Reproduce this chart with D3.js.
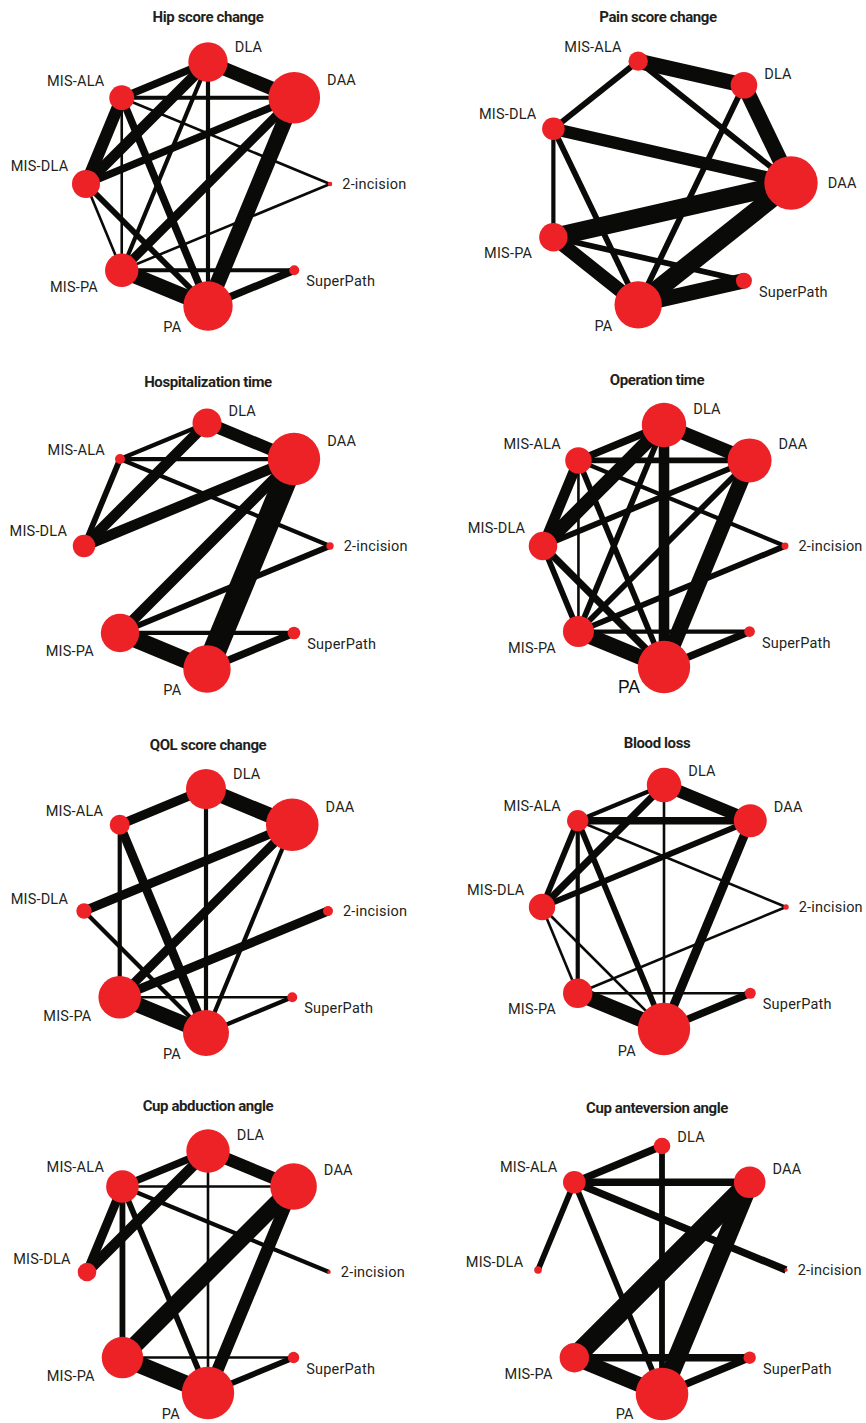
<!DOCTYPE html>
<html>
<head>
<meta charset="utf-8">
<script src="https://cdn.jsdelivr.net/npm/d3@7"></script>
<style>
    body { margin: 0; background: #fff; }
    .title { font-family: Roboto, "Noto Sans", sans-serif; font-weight: 700; font-size: 15px; letter-spacing: -0.4px; fill: #231f20; }
    .label { font-family: Roboto, "Noto Sans", sans-serif; font-size: 14.5px; letter-spacing: 0.2px; fill: #231f20; }
    .label.big { font-family: "Liberation Sans", Arial, sans-serif; font-size: 17.5px; letter-spacing: 0; fill: #111; }
</style>
</head>
<body>
<div id="graph"></div>
<script>
/*
    Data
*/
// treatments, in the clockwise order they sit on each network
var treatments = ["DAA", "2-incision", "SuperPath", "PA", "MIS-PA", "MIS-DLA", "MIS-ALA", "DLA"]

var titles = ["Hip score change", "Pain score change", "Hospitalization time", "Operation time",
              "QOL score change", "Blood loss", "Cup abduction angle", "Cup anteversion angle"]

// patients per treatment (same order as treatments, null = not in that network)
var hipNodes   = [985, 8, 37, 902, 412, 290, 231, 574]
var painNodes  = [1054, null, 95, 831, 298, 189, 139, 262]
var hospNodes  = [1015, 20, 59, 831, 545, 186, 37, 311]
var opNodes    = [716, 18, 42, 1015, 355, 302, 258, 729]
var qolNodes   = [1023, 37, 37, 782, 671, 88, 148, 592]
var bloodNodes = [403, 11, 45, 1015, 320, 258, 169, 438]
var abdNodes   = [803, 5, 48, 1015, 634, 128, 393, 696]
var antNodes   = [369, 4, 57, 1023, 320, 21, 189, 102]

// direct comparisons: [treatment, treatment, number of studies]
var hipEdges = [
    ["DLA", "DAA", 8], ["DLA", "MIS-ALA", 4], ["DLA", "MIS-DLA", 6], ["DLA", "MIS-PA", 2], ["DLA", "PA", 2],
    ["DAA", "MIS-ALA", 2], ["DAA", "MIS-DLA", 4], ["DAA", "MIS-PA", 5], ["DAA", "PA", 9],
    ["MIS-ALA", "MIS-DLA", 7], ["MIS-ALA", "2-incision", 1], ["MIS-ALA", "MIS-PA", 1], ["MIS-ALA", "PA", 4],
    ["MIS-DLA", "MIS-PA", 1], ["MIS-DLA", "PA", 3],
    ["MIS-PA", "2-incision", 1], ["MIS-PA", "SuperPath", 2], ["MIS-PA", "PA", 9], ["PA", "SuperPath", 4]
]
var painEdges = [
    ["MIS-ALA", "DLA", 9], ["MIS-ALA", "DAA", 3], ["MIS-ALA", "MIS-DLA", 3],
    ["DLA", "DAA", 9], ["DLA", "PA", 3],
    ["MIS-DLA", "DAA", 7], ["MIS-DLA", "MIS-PA", 2], ["MIS-DLA", "PA", 3],
    ["MIS-PA", "DAA", 11], ["MIS-PA", "PA", 8], ["MIS-PA", "SuperPath", 3],
    ["DAA", "PA", 11], ["PA", "SuperPath", 9]
]
var hospEdges = [
    ["DLA", "DAA", 7], ["DLA", "MIS-ALA", 2], ["DLA", "MIS-DLA", 6],
    ["DAA", "MIS-ALA", 2], ["DAA", "MIS-DLA", 6], ["DAA", "MIS-PA", 6], ["DAA", "PA", 14],
    ["MIS-ALA", "MIS-DLA", 3], ["MIS-ALA", "2-incision", 2],
    ["MIS-PA", "2-incision", 3], ["MIS-PA", "SuperPath", 2], ["MIS-PA", "PA", 10], ["PA", "SuperPath", 4]
]
var opEdges = [
    ["DLA", "DAA", 8], ["DLA", "MIS-ALA", 4], ["DLA", "MIS-DLA", 8], ["DLA", "MIS-PA", 3], ["DLA", "PA", 6],
    ["DAA", "MIS-ALA", 3], ["DAA", "MIS-DLA", 3], ["DAA", "MIS-PA", 3], ["DAA", "PA", 9],
    ["MIS-ALA", "MIS-DLA", 6], ["MIS-ALA", "2-incision", 2], ["MIS-ALA", "MIS-PA", 1], ["MIS-ALA", "PA", 3],
    ["MIS-DLA", "MIS-PA", 3], ["MIS-DLA", "PA", 4],
    ["MIS-PA", "2-incision", 3], ["MIS-PA", "SuperPath", 2], ["MIS-PA", "PA", 9], ["PA", "SuperPath", 4]
]
var qolEdges = [
    ["DLA", "DAA", 9], ["DLA", "MIS-ALA", 5], ["DLA", "PA", 2],
    ["DAA", "MIS-DLA", 5], ["DAA", "MIS-PA", 5], ["DAA", "PA", 2],
    ["MIS-ALA", "MIS-PA", 2], ["MIS-ALA", "PA", 5], ["MIS-DLA", "PA", 2],
    ["MIS-PA", "2-incision", 5], ["MIS-PA", "SuperPath", 1], ["MIS-PA", "PA", 9], ["PA", "SuperPath", 2]
]
var bloodEdges = [
    ["DLA", "DAA", 7], ["DLA", "MIS-ALA", 2], ["DLA", "MIS-DLA", 4], ["DLA", "PA", 1],
    ["DAA", "MIS-ALA", 4], ["DAA", "MIS-DLA", 3], ["DAA", "PA", 5],
    ["MIS-ALA", "MIS-DLA", 3], ["MIS-ALA", "MIS-PA", 2], ["MIS-ALA", "PA", 3], ["MIS-ALA", "2-incision", 1],
    ["MIS-DLA", "MIS-PA", 1], ["MIS-DLA", "PA", 1],
    ["MIS-PA", "2-incision", 1], ["MIS-PA", "SuperPath", 1], ["MIS-PA", "PA", 9], ["PA", "SuperPath", 4]
]
var abdEdges = [
    ["DLA", "DAA", 7], ["DLA", "MIS-ALA", 4], ["DLA", "MIS-DLA", 6], ["DLA", "PA", 1],
    ["DAA", "MIS-ALA", 1], ["DAA", "MIS-PA", 10], ["DAA", "PA", 7],
    ["MIS-ALA", "MIS-DLA", 5], ["MIS-ALA", "MIS-PA", 3], ["MIS-ALA", "PA", 3], ["MIS-ALA", "2-incision", 2],
    ["MIS-PA", "SuperPath", 1], ["MIS-PA", "PA", 10], ["PA", "SuperPath", 3]
]
var antEdges = [
    ["DLA", "MIS-ALA", 4], ["DLA", "PA", 3],
    ["DAA", "MIS-ALA", 4], ["DAA", "MIS-PA", 12], ["DAA", "PA", 11],
    ["MIS-ALA", "MIS-DLA", 3], ["MIS-ALA", "2-incision", 4], ["MIS-ALA", "PA", 3],
    ["MIS-PA", "SuperPath", 4], ["MIS-PA", "PA", 9], ["PA", "SuperPath", 4]
]

var panelNodes = [hipNodes, painNodes, hospNodes, opNodes, qolNodes, bloodNodes, abdNodes, antNodes]
var panelEdges = [hipEdges, painEdges, hospEdges, opEdges, qolEdges, bloodEdges, abdEdges, antEdges]

/*
    Layout
*/
var width = 866,
    height = 1423

var panelCX = [208, 666, 207, 664, 206, 664, 208, 662],
    panelCY = [184, 183, 546, 546, 911, 907, 1272, 1270],
    panelR  = [122, 125, 123, 121, 122, 122, 121, 124],
    titleX  = [208, 658, 208, 657, 208, 657, 208, 657],
    titleY  = [22, 22, 387, 385, 750, 748, 1111, 1113]

var rScale = d3.scaleSqrt()
               .domain([0, 1000])
               .range([0, 26]),
    wScale = d3.scaleLinear()
               .domain([1, 14])
               .range([2.6, 23.4])

var svg = d3.select("#graph").append("svg")
            .attr("width", width)
            .attr("height", height)

svg.append("rect")
    .attr("width", width)
    .attr("height", height)
    .attr("fill", "#fff")


function labelPlace( a, r ) {
    /*
        Label offset from a node, depending on where it sits on the ring
        (a in degrees, -90 = top, 0 = right, 90 = bottom)
    */
    if (a < -20)  return {anchor: "start", dx: r + 7, dy: -r / 2}
    if (a < 20)   return {anchor: "start", dx: r + 10, dy: 4.5}
    if (a < 70)   return {anchor: "start", dx: r + 7, dy: 16}
    if (a < 120)  return {anchor: "end", dx: -(r + 2), dy: 0.3 * r + 19}
    if (a < 165)  return {anchor: "end", dx: -(r + 7), dy: 0.4 * r + 15}
    return {anchor: "end", dx: -(0.3 * r + 13.5), dy: -0.9 * r}
}


function drawNetwork( i ) {
    var weights = panelNodes[i]

    var nodes = []
    treatments.forEach(function( t, j ) {
        if (weights[j] != null) nodes.push({name: t, value: weights[j]})
    })

    // nodes on a regular polygon, DAA at the upper right (octagon) or right (heptagon)
    var start = nodes.length == 8 ? -45 : 0
    var angle = d3.scaleLinear()
                  .domain([0, nodes.length])
                  .range([start, start + 360])

    var byName = {}
    nodes.forEach(function( d, k ) {
        d.angle = ((angle(k) + 90) % 360 + 360) % 360 - 90
        d.x = panelCX[i] + panelR[i] * Math.cos(d.angle * Math.PI / 180)
        d.y = panelCY[i] + panelR[i] * Math.sin(d.angle * Math.PI / 180)
        d.r = rScale(d.value)
        byName[d.name] = d
    })

    var g = svg.append("g").attr("class", "panel")

    g.append("text")
        .attr("class", "title")
        .attr("x", titleX[i])
        .attr("y", titleY[i])
        .attr("text-anchor", "middle")
        .text(titles[i])

    g.selectAll("line")
        .data(panelEdges[i])
        .enter().append("line")
        .attr("x1", function( d ) { return byName[d[0]].x })
        .attr("y1", function( d ) { return byName[d[0]].y })
        .attr("x2", function( d ) { return byName[d[1]].x })
        .attr("y2", function( d ) { return byName[d[1]].y })
        .attr("stroke", "#0a0a08")
        .attr("stroke-linecap", "butt")
        .attr("stroke-width", function( d ) { return wScale(d[2]) })

    g.selectAll("circle")
        .data(nodes)
        .enter().append("circle")
        .attr("cx", function( d ) { return d.x })
        .attr("cy", function( d ) { return d.y })
        .attr("r", function( d ) { return d.r })
        .attr("fill", "#ec2227")

    g.selectAll("text.label")
        .data(nodes)
        .enter().append("text")
        .attr("class", function( d ) {
            // the operation time figure has its PA label in another font
            return (i == 3 && d.name == "PA") ? "label big" : "label"
        })
        .each(function( d ) {
            var p = labelPlace(d.angle, d.r)
            if (i == 3 && d.name == "PA") p = {anchor: "end", dx: -24, dy: 26}
            d3.select(this)
                .attr("x", d.x + p.dx)
                .attr("y", Math.min(d.y + p.dy, height - 4))  // keep bottom labels inside
                .attr("text-anchor", p.anchor)
        })
        .text(function( d ) { return d.name })
}

for (var i = 0; i < titles.length; i++) {
    drawNetwork(i)
}
</script>
</body>
</html>
